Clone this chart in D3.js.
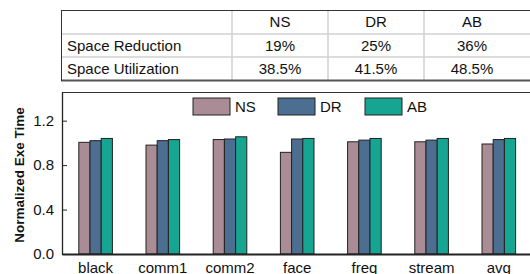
<!DOCTYPE html>
<html>
<head>
<meta charset="utf-8">
<script src="https://cdn.jsdelivr.net/npm/d3@7"></script>
<style>
body{margin:0;background:#fff;}
svg{display:block;font-family:"Liberation Sans",Arial,sans-serif;}
</style>
</head>
<body>
<svg id="c" width="530" height="274"></svg>
<script>
// ---- data ----
const categories = ["black","comm1","comm2","face","freq","stream","avg"];
const seriesNames = ["NS","DR","AB"];
const NS = [1.005, 0.98, 1.03, 0.915, 1.01, 1.01, 0.99];
const DR = [1.02, 1.02, 1.035, 1.035, 1.025, 1.025, 1.03];
const AB = [1.04, 1.03, 1.055, 1.04, 1.04, 1.04, 1.04];
const yTicks = [0.0, 0.4, 0.8, 1.2];
const tableHeader = ["", "NS", "DR", "AB"];
const tableRows = [
  ["Space Reduction", "19%", "25%", "36%"],
  ["Space Utilization", "38.5%", "41.5%", "48.5%"]
];
const colors = {NS:"#a98c95", DR:"#4c6e91", AB:"#16a591"};

const svg = d3.select("#c");

// ---- table ----
const colX = [61, 232, 328, 424, 520];
const rowY = [10, 34, 57, 80.5];
const tg = svg.append("g");
[34, 57].forEach(yy => tg.append("line").attr("x1",61).attr("x2",530).attr("y1",yy).attr("y2",yy)
  .attr("stroke","#d0d0d0").attr("stroke-width",1.5));
[232, 328, 424].forEach(xx => tg.append("line").attr("x1",xx).attr("x2",xx).attr("y1",10).attr("y2",80)
  .attr("stroke","#d0d0d0").attr("stroke-width",1.5));
tg.append("line").attr("x1",61).attr("x2",530).attr("y1",10.5).attr("y2",10.5).attr("stroke","#333").attr("stroke-width",1);
tg.append("line").attr("x1",61).attr("x2",530).attr("y1",80.5).attr("y2",80.5).attr("stroke","#555").attr("stroke-width",2);
tg.append("line").attr("x1",61.5).attr("x2",61.5).attr("y1",10).attr("y2",81).attr("stroke","#333").attr("stroke-width",1);
const allRows = [tableHeader].concat(tableRows);
allRows.forEach((row, ri) => {
  const yc = (rowY[ri] + rowY[ri+1]) / 2;
  row.forEach((cell, ci) => {
    if (!cell) return;
    const t = tg.append("text").text(cell).attr("y", yc).attr("dy","0.36em")
      .attr("font-size",15).attr("fill","#111");
    if (ci === 0) t.attr("x", 67);
    else t.attr("x", (colX[ci] + colX[ci+1]) / 2).attr("text-anchor","middle");
  });
});

// ---- chart ----
const pLeft = 62, pRight = 532.4, pTop = 92, pBottom = 254;
const x0 = d3.scaleBand().domain(categories).range([pLeft, pRight]).paddingInner(0.5).paddingOuter(0.25);
const x1 = d3.scaleBand().domain(seriesNames).range([0, x0.bandwidth()]);
const y = d3.scaleLinear().domain([0, 1.458]).range([pBottom, pTop]);

const values = {NS, DR, AB};
const g = svg.append("g");
seriesNames.forEach(s => {
  g.selectAll(null).data(categories).enter().append("rect")
    .attr("x", (d) => x0(d) + x1(s))
    .attr("y", (d, i) => y(values[s][i]))
    .attr("width", x1.bandwidth())
    .attr("height", (d, i) => y(0) - y(values[s][i]))
    .attr("fill", colors[s]).attr("stroke","#222").attr("stroke-width",1);
});

// frame top
svg.append("line").attr("x1",pLeft).attr("x2",530).attr("y1",pTop+0.5).attr("y2",pTop+0.5).attr("stroke","#333");

// y axis
const ya = svg.append("g").attr("transform",`translate(${pLeft},0)`)
  .call(d3.axisLeft(y).tickValues(yTicks).tickFormat(d3.format(".1f")).tickSizeInner(-5).tickSizeOuter(0).tickPadding(8));
ya.select(".domain").attr("stroke","#222").attr("stroke-width",1.3);
ya.selectAll(".tick line").attr("stroke","#222");
ya.selectAll("text").attr("font-size",15).attr("fill","#111").attr("font-family","Liberation Sans, Arial, sans-serif");

// x axis
const xa = svg.append("g").attr("transform",`translate(0,${pBottom})`)
  .call(d3.axisBottom(x0).tickSize(0).tickPadding(8));
xa.select(".domain").attr("stroke","#222").attr("stroke-width",1.8);
xa.selectAll("text").attr("font-size",15).attr("fill","#111").attr("font-family","Liberation Sans, Arial, sans-serif");

// y title
svg.append("text").text("Normalized Exe Time")
  .attr("transform","translate(24,175) rotate(-90)")
  .attr("text-anchor","middle").attr("font-weight","bold").attr("font-size",13.5).attr("fill","#111");

// legend
const legX = [193, 278, 365];
seriesNames.forEach((s, i) => {
  svg.append("rect").attr("x", legX[i]).attr("y", 98).attr("width", 37).attr("height", 17)
    .attr("fill", colors[s]).attr("stroke","#222").attr("stroke-width",1);
  svg.append("text").text(s).attr("x", legX[i] + 42).attr("y", 106.5).attr("dy","0.36em")
    .attr("font-size",15).attr("fill","#111");
});
</script>
</body>
</html>
